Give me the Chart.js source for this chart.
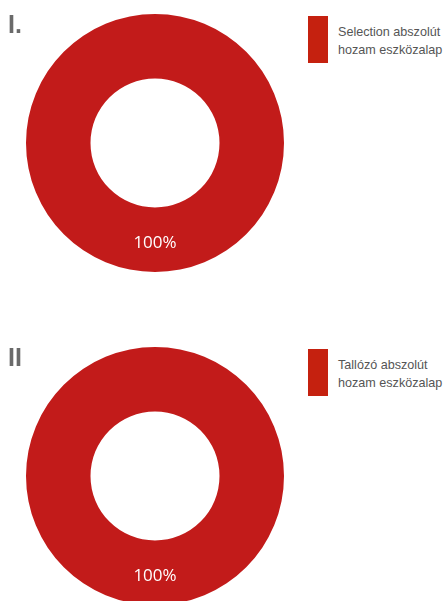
<!DOCTYPE html>
<html>
<head>
<meta charset="utf-8">
<script src="https://cdn.jsdelivr.net/npm/chart.js@4"></script>
<style>
  body { margin: 0; background: #fff; }
  #page { position: relative; width: 446px; height: 601px; overflow: hidden; }
  .block { position: absolute; left: 0; width: 446px; height: 333px; }
  .block canvas { position: absolute; left: 0; top: 0; }
  .num { position: absolute; left: 8px; top: 10px; font: bold 25px "Liberation Sans", Arial, sans-serif; color: #6a6a6a; }
  .legend { position: absolute; left: 308px; top: 16px; }
  .legend .box { position: absolute; left: 0; top: 0; width: 20px; height: 47px; }
  .legend .txt { position: absolute; left: 30px; top: 7px; width: 130px; font: 12.6px "Liberation Sans", Arial, sans-serif; line-height: 18px; color: #555; white-space: nowrap; }
</style>
</head>
<body>
<div id="page"></div>
<script>
// data
const chartTitles = ["I.", "II"];
const fundNames1 = ["Selection abszolút hozam eszközalap"];
const fundNames2 = ["Tallózó abszolút hozam eszközalap"];
const shares1 = [100];
const shares2 = [100];
const sliceColors = ["#c21b1a"];
const legendColors = ["#c5210f"];

// draws the percent label in the middle of each slice
const percentLabels = {
  id: "percentLabels",
  afterDatasetsDraw(chart) {
    const ctx = chart.ctx;
    const meta = chart.getDatasetMeta(0);
    const values = chart.data.datasets[0].data;
    const total = values.reduce((a, b) => a + b, 0);
    meta.data.forEach((arc, i) => {
      const p = arc.tooltipPosition();
      const pct = Math.round((values[i] / total) * 100) + "%";
      ctx.save();
      ctx.fillStyle = "#fff";
      ctx.font = '17px "Open Sans", sans-serif';
      ctx.textAlign = "center";
      ctx.textBaseline = "middle";
      ctx.fillText(pct, p.x, p.y + 3);
      ctx.restore();
    });
  },
};

function makeBlock(top, title, names, values) {
  const page = document.getElementById("page");
  const block = document.createElement("div");
  block.className = "block";
  block.style.top = top + "px";

  const canvas = document.createElement("canvas");
  canvas.width = 300;
  canvas.height = 300;
  canvas.style.width = "300px";
  canvas.style.height = "300px";
  block.appendChild(canvas);

  const num = document.createElement("div");
  num.className = "num";
  num.textContent = title;
  block.appendChild(num);

  names.forEach((name, i) => {
    const legend = document.createElement("div");
    legend.className = "legend";
    legend.style.top = 16 + i * 55 + "px";
    const box = document.createElement("div");
    box.className = "box";
    box.style.background = legendColors[i];
    const txt = document.createElement("div");
    txt.className = "txt";
    const words = name.split(" ");
    txt.innerHTML = words.slice(0, 2).join(" ") + "<br>" + words.slice(2).join(" ");
    legend.append(box, txt);
    block.appendChild(legend);
  });

  page.appendChild(block);

  new Chart(canvas.getContext("2d"), {
    type: "doughnut",
    data: {
      labels: names,
      datasets: [
        {
          data: values,
          backgroundColor: sliceColors,
          borderWidth: 0,
        },
      ],
    },
    options: {
      responsive: false,
      animation: false,
      cutout: "50%",
      layout: { padding: { left: 26, right: 16, top: 14, bottom: 28 } },
      plugins: {
        legend: { display: false },
        tooltip: { enabled: false },
      },
    },
    plugins: [percentLabels],
  });
}

makeBlock(0, chartTitles[0], fundNames1, shares1);
makeBlock(333, chartTitles[1], fundNames2, shares2);
</script>
</body>
</html>
